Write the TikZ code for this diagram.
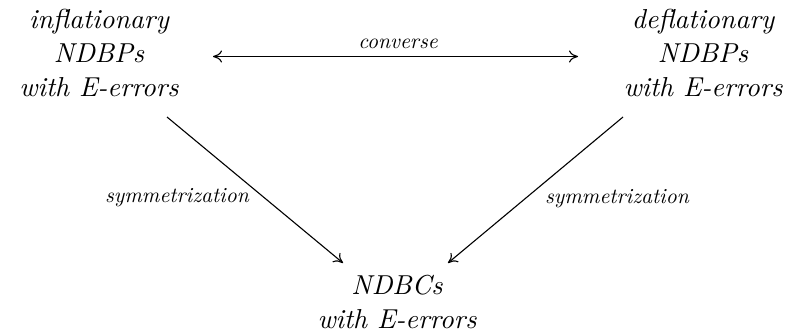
\documentclass[tikz,border=0pt]{standalone}
\usetikzlibrary{arrows.meta}
\begin{document}
\begin{tikzpicture}[x=1pt,y=1pt,
  term/.style={align=center,font=\fontsize{10}{12.4}\selectfont\itshape,inner sep=0pt,scale=2.74,transform shape,anchor=north},
  lbl/.style={font=\fontsize{10}{12}\selectfont\itshape,inner sep=0pt,scale=2.15,transform shape,anchor=base},
  tip/.tip={To[length=9pt,width=12pt]},
  arr/.style={line width=1.1pt,-tip},
  darr/.style={line width=1.1pt,tip-tip}]
\useasboundingbox (0,0) rectangle (786,333);
\node[term] (l) at (99,324) {inflationary\\NDBPs\\with E-errors};
\node[term] (r) at (703,324) {deflationary\\NDBPs\\with E-errors};
\node[term] (b) at (397,58) {NDBCs\\with E-errors};
\coordinate (ls) at (167,216);
\coordinate (le) at (343,70);
\coordinate (rs) at (623,216);
\coordinate (re) at (448,70);
\coordinate (hs) at (213,276.5);
\coordinate (he) at (578,276.5);
\draw[darr] (hs) -- (he);
\node[lbl] (cv) at (398,284.5) {converse};
\draw[arr] (ls) -- (le);
\draw[arr] (rs) -- (re);
\node[lbl] (sl) at (177,131) {symmetrization};
\node[lbl] (sr) at (617,130) {symmetrization};
\end{tikzpicture}
\end{document}
